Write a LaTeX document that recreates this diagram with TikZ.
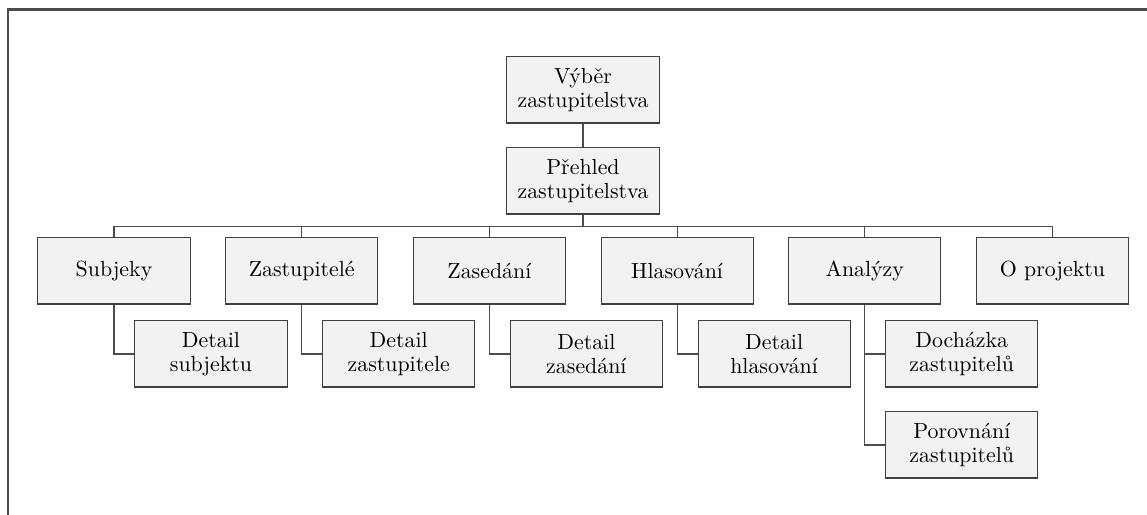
\documentclass[tikz,border=0pt]{standalone}
\usepackage{tikz}

\begin{document}
\begin{tikzpicture}[x=0.48pt,y=-0.48pt]
      \tikzstyle{page}=[rectangle,draw=black!75,fill=black!5,line width=0.5pt,align=center,minimum width=73pt,minimum height=31.7pt,inner sep=2pt,font=\fontsize{10.5}{11.5}\selectfont]
      \tikzstyle{link}=[draw=black!70,line width=0.5pt]
      \useasboundingbox (0,0) rectangle (1147,515);
      \draw[black!70,line width=1pt] (8,515) -- (8,9.5) -- (1147,9.5);
      \node[page] (vyber) at (583,90) {Výběr\\zastupitelstva};
      \node[page] (prehled) at (583,181) {Přehled\\zastupitelstva};
      \node[page] (subjeky) at (114,271) {Subjeky};
      \node[page] (zastup) at (301.7,271) {Zastupitelé};
      \node[page] (zasedani) at (489.4,271) {Zasedání};
      \node[page] (hlasovani) at (677.1,271) {Hlasování};
      \node[page] (analyzy) at (864.8,271) {Analýzy};
      \node[page] (projekt) at (1052.5,271) {O projektu};
      \node[page] (dsubjekt) at (211,354) {Detail\\subjektu};
      \node[page] (dzastup) at (398.7,354) {Detail\\zastupitele};
      \node[page] (dzasedani) at (586.4,354) {Detail\\zasedání};
      \node[page] (dhlasovani) at (774.1,354) {Detail\\hlasování};
      \node[page] (dochazka) at (961.8,354) {Docházka\\zastupitelů};
      \node[page] (porovnani) at (961.8,445) {Porovnání\\zastupitelů};
      \draw[link] (vyber) -- (prehled);
      \foreach \n in {subjeky,zastup,zasedani,hlasovani,analyzy,projekt}
        \draw[link] (prehled.south) -- ++(0,12) -| (\n.north);
      \draw[link] (subjeky.south) |- (dsubjekt.west);
      \draw[link] (zastup.south) |- (dzastup.west);
      \draw[link] (zasedani.south) |- (dzasedani.west);
      \draw[link] (hlasovani.south) |- (dhlasovani.west);
      \draw[link] (analyzy.south) |- (dochazka.west);
      \draw[link] (analyzy.south) |- (porovnani.west);
\end{tikzpicture}
\end{document}
